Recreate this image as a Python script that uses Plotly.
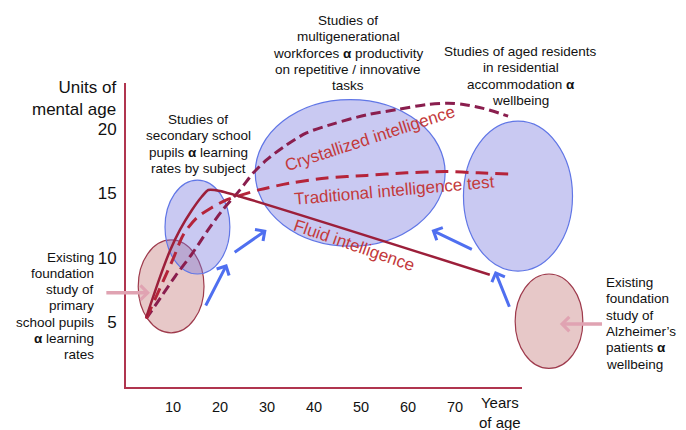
import plotly.graph_objects as go

# ---------------- data (ages in years, values in units of mental age) ----------------
x_ticks = [10, 20, 30, 40, 50, 60, 70]
y_ticks = [5, 10, 15, 20]

fluid_age = [4.3, 7.2, 9.4, 11.5, 14.0, 16.1, 17.5, 20.0, 77.4]
fluid_val = [5.4, 8.5, 10.6, 12.2, 13.7, 14.75, 15.27, 15.2, 8.7]

trad_age = [4.3, 7.9, 10.1, 12.2, 15.0, 18.2, 21.4, 24.3, 28.5, 34.9, 42.7, 51.2, 59.7, 68.0, 75.0, 82.8]
trad_val = [5.3, 8.2, 10.0, 11.8, 13.1, 13.9, 14.5, 14.85, 15.3, 15.8, 16.2, 16.4, 16.6, 16.7, 16.6, 16.5]

cryst_age = [4.3, 7.5, 10.5, 14.0, 17.5, 20.5, 24.3, 27.1, 29.9, 33.5, 38.4, 44.1, 51.2, 57.6, 64.0, 68.5, 71.8, 76.0, 81.3]
cryst_val = [5.3, 7.0, 8.6, 10.3, 12.2, 13.7, 15.3, 16.6, 17.6, 18.6, 19.7, 20.4, 21.1, 21.5, 21.9, 22.0, 21.9, 21.6, 21.0]

# study ellipses: centre (age, value) and half extents
ell_kind = ["foundation", "study", "study", "study", "foundation"]
ell_cx = [9.6, 15.2, 47.7, 83.4, 90.0]
ell_cy = [7.8, 12.4, 16.6, 14.8, 5.1]
ell_rx = [7.0, 6.9, 20.2, 11.6, 7.2]
ell_ry = [3.6, 3.64, 5.68, 5.81, 3.66]

# arrows: tail -> head
blue_tail_age = [16.8, 22.8, 73.9, 81.7]
blue_tail_val = [6.2, 10.36, 10.62, 6.1]
blue_head_age = [21.5, 29.9, 65.0, 78.5]
blue_head_val = [9.53, 12.17, 12.17, 9.0]

pink_tail_age = [-4.5, 101.6]
pink_tail_val = [7.31, 4.88]
pink_head_age = [5.1, 92.3]
pink_head_val = [7.31, 4.88]

curve_labels = ["Crystallized intelligence", "Traditional intelligence test", "Fluid intelligence"]
curve_label_age = [51.9, 57.2, 48.6]
curve_label_val = [19.3, 15.2, 11.0]
curve_label_angle = [-18, -5, 19]

notes = [
    ["Studies of", "secondary school", "pupils <b>α</b> learning", "rates by subject"],
    ["Studies of", "multigenerational", "workforces <b>α</b> productivity", "on repetitive / innovative", "tasks"],
    ["Studies of aged residents", "in residential", "accommodation <b>α</b>", "wellbeing"],
    ["Existing", "foundation", "study of", "primary", "school pupils", "<b>α</b> learning", "rates"],
    ["Existing", "foundation", "study of", "Alzheimer’s", "patients <b>α</b>", "wellbeing"],
]
note_age = [15.4, 47.3, 84.0, -6.4, 101.7]
note_val = [18.84, 25.87, 24.12, 6.28, 4.94]
note_anchor = ["center", "center", "center", "right", "left"]

# ---------------- layout geometry ----------------
W, H = 686, 430
OX, OY = 126, 387          # pixel position of the origin
AX_END, AY_TOP = 522, 83   # ends of the axis lines
KX, KY = 4.7, 12.9         # pixels per year / per unit
LINE_STEP = 16.3           # pixels between lines of the notes

FONT = "Liberation Sans, Arial, Helvetica, sans-serif"
AXIS_C = "#b0354f"
FLUID_C = "#9c1f3a"
TRAD_C = "#b5243a"
CRYST_C = "#8a1e4e"
LABEL_C = "#c3393b"
BLUE_ARROW = "#4f6ff0"
PINK_ARROW = "#e0a3b2"

fig = go.Figure()

# empty trace on the visible axes
fig.add_trace(go.Scatter(x=[], y=[], xaxis="x", yaxis="y", showlegend=False))

fig.add_trace(go.Scatter(x=cryst_age, y=cryst_val, xaxis="x2", yaxis="y2", mode="lines",
                         line=dict(color=CRYST_C, width=3, dash="10px,5px", shape="spline", smoothing=0.8),
                         hoverinfo="skip", showlegend=False))
fig.add_trace(go.Scatter(x=trad_age, y=trad_val, xaxis="x2", yaxis="y2", mode="lines",
                         line=dict(color=TRAD_C, width=3, dash="13px,7px", shape="spline", smoothing=0.8),
                         hoverinfo="skip", showlegend=False))
fig.add_trace(go.Scatter(x=fluid_age, y=fluid_val, xaxis="x2", yaxis="y2", mode="lines",
                         line=dict(color=FLUID_C, width=2.5, shape="spline", smoothing=0.5),
                         hoverinfo="skip", showlegend=False))

shapes = []
for k, cx, cy, rx, ry in zip(ell_kind, ell_cx, ell_cy, ell_rx, ell_ry):
    if k == "study":
        fill, border = "rgba(120,120,222,0.40)", "#6076e6"
    else:
        fill, border = "rgba(196,118,118,0.40)", "#9e3a4c"
    shapes.append(dict(type="circle", xref="x2", yref="y2", x0=cx - rx, x1=cx + rx,
                       y0=cy - ry, y1=cy + ry, fillcolor=fill,
                       line=dict(color=border, width=1.2), layer="below"))

annotations = []
for ta, tv, ha, hv in zip(blue_tail_age, blue_tail_val, blue_head_age, blue_head_val):
    annotations.append(dict(x=ha, y=hv, ax=ta, ay=tv, xref="x2", yref="y2", axref="x2", ayref="y2",
                            text="", showarrow=True, arrowhead=4, arrowsize=0.9, arrowwidth=3,
                            arrowcolor=BLUE_ARROW))
for ta, tv, ha, hv in zip(pink_tail_age, pink_tail_val, pink_head_age, pink_head_val):
    annotations.append(dict(x=ha, y=hv, ax=ta, ay=tv, xref="x2", yref="y2", axref="x2", ayref="y2",
                            text="", showarrow=True, arrowhead=4, arrowsize=0.8, arrowwidth=3.5,
                            arrowcolor=PINK_ARROW))
for t, a, v, ang in zip(curve_labels, curve_label_age, curve_label_val, curve_label_angle):
    annotations.append(dict(x=a, y=v, xref="x2", yref="y2", text=t, showarrow=False, textangle=ang,
                            font=dict(family=FONT, size=17, color=LABEL_C)))
for lines, a, v, anc in zip(notes, note_age, note_val, note_anchor):
    n = len(lines)
    for j, line in enumerate(lines):
        yy = v + ((n - 1) / 2 - j) * LINE_STEP / KY
        annotations.append(dict(x=a, y=yy, xref="x2", yref="y2", text=line, showarrow=False,
                                xanchor=anc, yanchor="middle",
                                font=dict(family=FONT, size=13.5, color="#111111")))
annotations.append(dict(x=-1.7, y=22.4, xref="x2", yref="y2", text="Units of<br>mental age",
                        showarrow=False, xanchor="right", yanchor="middle", align="right",
                        font=dict(family=FONT, size=17, color="#111111")))
annotations.append(dict(x=79.5, y=-2.0, xref="x2", yref="y2", text="Years<br>of age",
                        showarrow=False, xanchor="center", yanchor="middle", align="center",
                        font=dict(family=FONT, size=15, color="#111111")))

fig.update_layout(
    width=W, height=H, margin=dict(l=0, r=0, t=0, b=0),
    paper_bgcolor="white", plot_bgcolor="rgba(0,0,0,0)", showlegend=False,
    shapes=shapes, annotations=annotations,
    xaxis=dict(domain=[OX / W, AX_END / W], range=[0, (AX_END - OX) / KX], anchor="y",
               showline=True, linecolor=AXIS_C, linewidth=2, showgrid=False, zeroline=False,
               tickvals=x_ticks, ticktext=[str(t) for t in x_ticks], ticks="outside", ticklen=6,
               tickcolor="rgba(0,0,0,0)", tickfont=dict(family=FONT, size=14.5, color="#111111"),
               fixedrange=True),
    yaxis=dict(domain=[(H - OY) / H, (H - AY_TOP) / H], range=[0, (OY - AY_TOP) / KY], anchor="x",
               showline=True, linecolor=AXIS_C, linewidth=2, showgrid=False, zeroline=False,
               tickvals=y_ticks, ticktext=[str(t) for t in y_ticks], ticks="outside", ticklen=4,
               tickcolor="rgba(0,0,0,0)", tickfont=dict(family=FONT, size=17, color="#111111"),
               fixedrange=True),
    xaxis2=dict(domain=[0, 1], range=[-OX / KX, (W - OX) / KX], anchor="y2", visible=False,
                fixedrange=True),
    yaxis2=dict(domain=[0, 1], range=[-(H - OY) / KY, OY / KY], anchor="x2", visible=False,
                fixedrange=True),
)

fig.write_html("out.html", config={"displayModeBar": False, "staticPlot": True},
               post_script="document.body.style.margin='0';document.body.style.padding='0';"
                           "document.body.style.overflow='hidden';")
